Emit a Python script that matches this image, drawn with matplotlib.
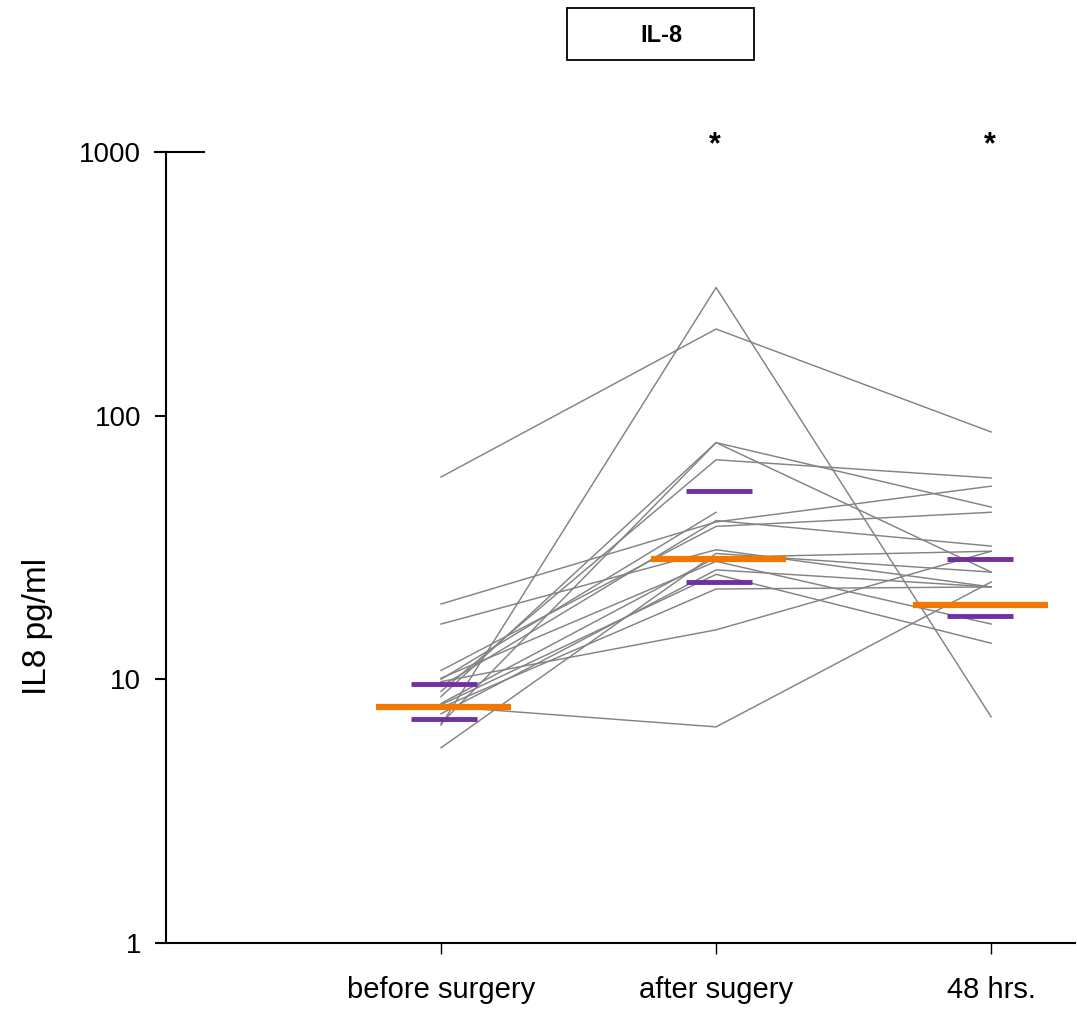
import numpy as np
import matplotlib
matplotlib.use("Agg")
import matplotlib.pyplot as plt
from matplotlib.patches import Rectangle

plt.rcParams['font.family'] = ['Liberation Sans', 'DejaVu Sans']

# time points
groups = ["before surgery", "after sugery", "48 hrs."]

# IL-8 (pg/ml) per patient: before, after surgery, 48 hrs (nan = missing)
before = [58.5, 6.7, 8.6, 6.8, 9.0, 10.0, 19.3, 10.8, 9.4, 16.2, 8.1, 10.1, 7.4, 8.0, 7.8, 9.8, 7.9, 5.5]
after = [213, 306, 79, 79, 68, 43, 39.5, 38, 40, 31, 29, 28, 26, 25, 22, 15.4, 6.6, 30]
hrs48 = [86.7, 7.2, 45, 25.5, 58, np.nan, 54, 43, 32, 22.4, 30.6, 16.2, 22.4, 13.7, 22.4, 30.6, 23.4, 25.5]

# group median and interquartile bars
median = [7.85, 28.6, 19.1]
q1 = [7.1, 23.4, 17.4]
q3 = [9.6, 51.8, 28.6]
bar_offset = [0.01, 0.01, -0.04]

signif = ["", "*", "*"]

fig = plt.figure(figsize=(10.77, 10.11), dpi=100)
ax = fig.add_axes([0.1541, 0.0673, 0.8441, 0.7824])

x = np.arange(len(groups))
for b, a, h in zip(before, after, hrs48):
    ax.plot(x, [b, a, h], color="#838383", lw=1.05, zorder=1)

for i in range(len(groups)):
    c = x[i] + bar_offset[i]
    ax.hlines(median[i], c - 0.245, c + 0.245, color="#f07800", lw=4.5, zorder=3)
    ax.hlines([q1[i], q3[i]], c - 0.12, c + 0.12, color="#7030a0", lw=3.5, zorder=3)
    if signif[i]:
        ax.text(x[i] - 0.005, 1060, signif[i], ha="center", va="center",
                fontsize=22, fontweight="bold", clip_on=False)

ax.set_yscale("log")
ax.set_ylim(1, 1000)
ax.set_xlim(-1.0, 2.305)
ax.set_yticks([1, 10, 100, 1000])
ax.set_yticklabels(["1", "10", "100", "1000"])
ax.yaxis.set_minor_locator(matplotlib.ticker.NullLocator())
ax.set_xticks(x)
ax.set_xticklabels(groups)
ax.tick_params(axis="y", length=8, width=1.5, labelsize=20, pad=10)
ax.tick_params(axis="x", length=8, width=1.0, labelsize=21, pad=16)
ax.set_ylabel("IL8 pg/ml", fontsize=24)
ax.yaxis.set_label_coords(-0.124, 0.40)

for side in ["top", "right"]:
    ax.spines[side].set_visible(False)
for side in ["left", "bottom"]:
    ax.spines[side].set_linewidth(1.5)

# extended top tick on the y axis
ax.plot([-1.04, -0.86], [1000, 1000], color="black", lw=1.5, clip_on=False)

# panel title box
fig.patches.append(Rectangle((567 / 1077, 1 - 60 / 1011), 187 / 1077, 52 / 1011,
                             transform=fig.transFigure, fill=False,
                             edgecolor="black", lw=1.3))
fig.text(661 / 1077, 1 - 35 / 1011, "IL-8", ha="center", va="center",
         fontsize=17, fontweight="bold")

fig.savefig("out.png", dpi=100)
